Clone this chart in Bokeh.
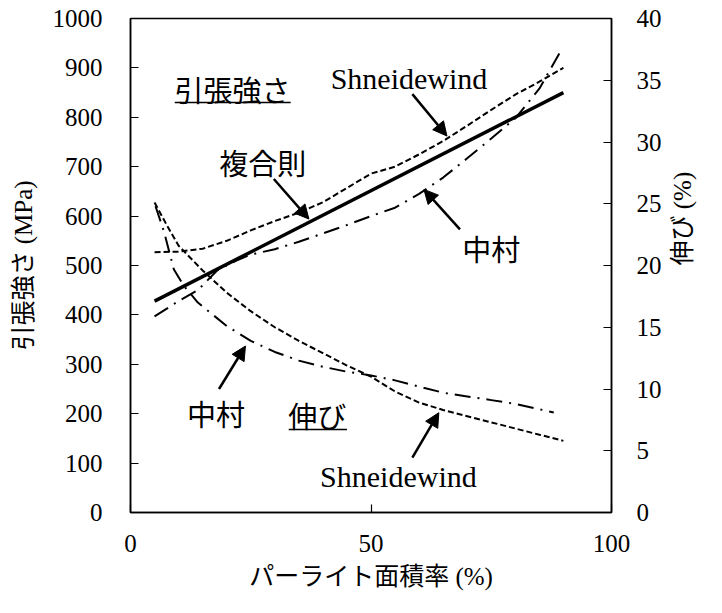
import math
from bokeh.plotting import figure
from bokeh.models import Range1d, LinearAxis, FixedTicker, Arrow, NormalHead, Label
from bokeh.embed import file_html
from bokeh.resources import INLINE

# ---- data ----
# rule of mixtures (tensile strength, MPa)
rom_x = [5, 90]
rom_y = [428, 850]

# Shneidewind tensile strength (MPa)
shn_ts_x = [5, 10, 15, 20, 25, 30, 35, 40, 45, 50, 55, 60, 65, 70, 75, 80, 85, 90]
shn_ts_y = [527, 528, 534, 550, 571, 590, 607, 628, 657, 686, 700, 725, 752, 783, 815, 846, 872, 900]

# Nakamura tensile strength (MPa)
nak_ts_x = [5, 10, 14, 18, 22, 25, 30, 35, 40, 45, 50, 55, 60, 65, 70, 75, 80, 85, 89.5]
nak_ts_y = [397, 428, 450, 490, 510, 522, 533, 548, 565, 582, 600, 617, 645, 678, 717, 757, 798, 858, 935]

# Shneidewind elongation (%)
shn_el_x = [5, 7.5, 10, 15, 20, 25, 30, 35, 40, 45, 50, 55, 60, 65, 70, 75, 80, 85, 90]
shn_el_y = [25.1, 23.3, 21.6, 19.6, 17.8, 16.3, 15.0, 13.9, 12.9, 11.9, 11.0, 9.8, 8.9, 8.3, 7.8, 7.3, 6.8, 6.3, 5.8]

# Nakamura elongation (%)
nak_el_x = [5.2, 7, 9, 11, 14, 20, 25, 30, 35, 40, 45, 50, 55, 60, 65, 70, 75, 80, 88]
nak_el_y = [24.8, 22.7, 19.7, 18.4, 17.0, 15.1, 13.9, 13.0, 12.3, 11.8, 11.4, 11.1, 10.7, 10.2, 9.7, 9.4, 9.1, 8.8, 8.1]

x_ticks = [0, 50, 100]
ts_ticks = [0, 100, 200, 300, 400, 500, 600, 700, 800, 900, 1000]
el_ticks = [0, 5, 10, 15, 20, 25, 30, 35, 40]

SERIF = "Times"
MIX = "'Liberation Serif', 'Noto Sans CJK JP'"
CJK = "Noto Sans CJK JP"

p = figure(width=712, height=597, output_backend="svg", toolbar_location=None,
           x_range=Range1d(0, 100), y_range=Range1d(0, 1000),
           min_border_left=130, min_border_top=18, min_border_right=101, min_border_bottom=85)
p.extra_y_ranges = {"el": Range1d(0, 40)}
p.xgrid.visible = False
p.ygrid.visible = False
p.outline_line_color = "black"
p.outline_line_width = 1.5
p.outline_line_alpha = 1
p.background_fill_color = "white"
p.border_fill_color = "white"

def style_axis(ax, ticks, label, standoff, lab_standoff):
    ax.ticker = FixedTicker(ticks=ticks)
    ax.minor_tick_line_color = None
    ax.major_tick_in = 8
    ax.major_tick_out = 0
    ax.major_tick_line_color = "black"
    ax.major_tick_line_width = 1.2
    ax.axis_line_color = "black"
    ax.axis_line_width = 1.5
    ax.major_label_text_font = SERIF
    ax.major_label_text_font_size = "25px"
    ax.major_label_text_color = "black"
    ax.major_label_standoff = standoff
    ax.axis_label = label
    ax.axis_label_text_font = MIX
    ax.axis_label_text_font_size = "25px"
    ax.axis_label_text_font_style = "normal"
    ax.axis_label_text_color = "black"
    ax.axis_label_standoff = lab_standoff

style_axis(p.xaxis[0], x_ticks, "パーライト面積率 (%)", 22, 8)
style_axis(p.yaxis[0], ts_ticks, "引張強さ (MPa)", 28, 13)
ax_r = LinearAxis(y_range_name="el")
p.add_layout(ax_r, "right")
style_axis(ax_r, el_ticks, "伸び (%)", 25, 18)
if "axis_label_orientation" in ax_r.properties():
    ax_r.axis_label_orientation = math.pi / 2

# ---- lines ----
p.line(rom_x, rom_y, line_color="black", line_width=3.5)
p.line(shn_ts_x, shn_ts_y, line_color="black", line_width=2, line_dash="6 3")
p.line(nak_ts_x, nak_ts_y, line_color="black", line_width=2, line_dash="16 7 2 7")
p.line(shn_el_x, shn_el_y, line_color="black", line_width=2, line_dash="6 3", y_range_name="el")
p.line(nak_el_x, nak_el_y, line_color="black", line_width=2, line_dash="16 7 2 7", y_range_name="el")

# ---- annotations ----
def lab(x, y, t, font, size="29px"):
    p.add_layout(Label(x=x, y=y, text=t, text_font=font, text_font_size=size,
                       text_align="center", text_baseline="middle", text_color="black"))

def arrow(x0, y0, x1, y1):
    p.add_layout(Arrow(end=NormalHead(size=14, fill_color="black", line_color="black"),
                       x_start=x0, y_start=y0, x_end=x1, y_end=y1,
                       line_color="black", line_width=2.5))

lab(21.2, 858, "引張強さ", CJK)
p.segment(x0=[9.2], y0=[830], x1=[33.3], y1=[830], line_color="black", line_width=1.5)
lab(57.9, 878, "Shneidewind", SERIF, "30px")
arrow(58.6, 847, 65.8, 762)
lab(27.5, 710, "複合則", CJK)
arrow(29.8, 675, 37.1, 594)
lab(75.0, 536, "中村", CJK)
arrow(68.5, 573, 61.0, 654)
lab(17.8, 202, "中村", CJK)
arrow(18.4, 250, 23.9, 337)
lab(38.8, 198, "伸び", CJK)
p.segment(x0=[32.9], y0=[168], x1=[45.0], y1=[168], line_color="black", line_width=1.5)
lab(55.7, 73, "Shneidewind", SERIF, "30px")
arrow(58.6, 111, 64.1, 202)

open("out.html", "w").write(file_html(p, INLINE))
